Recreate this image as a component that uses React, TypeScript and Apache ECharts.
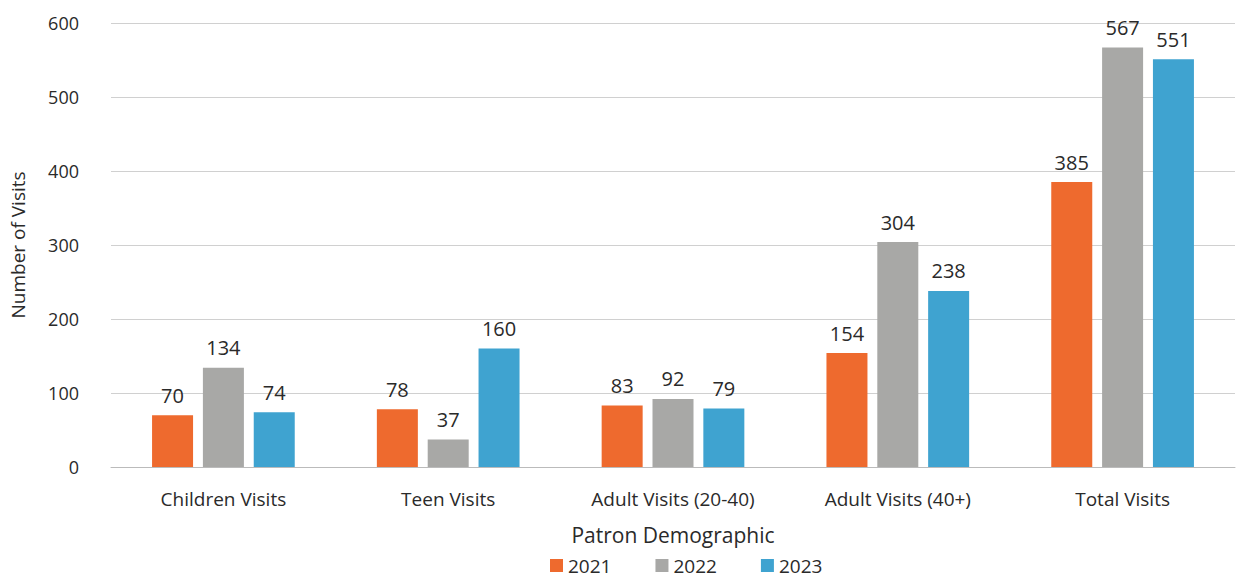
import React, { useEffect, useRef } from "react";
import * as echarts from "echarts";

const categories = ["Children Visits", "Teen Visits", "Adult Visits (20-40)", "Adult Visits (40+)", "Total Visits"];
const v2021 = [70, 78, 83, 154, 385];
const v2022 = [134, 37, 92, 304, 567];
const v2023 = [74, 160, 79, 238, 551];
const yTicks = [0, 100, 200, 300, 400, 500, 600];

const FONT = "'Open Sans', 'Noto Sans', sans-serif";
const colors = ["#EE6A2E", "#A8A8A6", "#3FA3D0"];

export default function App() {
  const ref = useRef<HTMLDivElement>(null);
  useEffect(() => {
    const chart = echarts.init(ref.current!, undefined, { renderer: "svg" });
    const mk = (name: string, data: number[], color: string) => ({
      name,
      type: "bar",
      data,
      barWidth: 41,
      barGap: "24%",
      itemStyle: { color },
      label: {
        show: true,
        position: "top",
        distance: 10,
        color: "#2a2a2a",
        fontSize: 20,
        fontFamily: FONT,
      },
    });
    chart.setOption({
      animation: false,
      backgroundColor: "#fff",
      color: colors,
      grid: { left: 107, right: 19, top: 23, bottom: 112 },
      legend: {
        bottom: -1,
        left: 545,
        itemWidth: 13,
        itemHeight: 13,
        itemGap: 44,
        icon: "rect",
        textStyle: { fontSize: 19, color: "#2a2a2a", fontFamily: FONT },
        data: ["2021", "2022", "2023"],
      },
      xAxis: {
        type: "category",
        data: categories,
        name: "Patron Demographic",
        nameLocation: "middle",
        nameGap: 57,
        nameTextStyle: { fontSize: 21, color: "#2a2a2a", fontFamily: FONT },
        axisLine: { lineStyle: { color: "#bbb" } },
        axisTick: { show: false },
        axisLabel: { fontSize: 19, color: "#2a2a2a", fontFamily: FONT, margin: 22 },
      },
      yAxis: {
        type: "value",
        min: 0,
        max: 600,
        interval: 100,
        name: "Number of Visits",
        nameLocation: "middle",
        nameGap: 84,
        nameTextStyle: { fontSize: 19, color: "#2a2a2a", fontFamily: FONT },
        axisLabel: {
          fontSize: 18,
          color: "#2a2a2a",
          fontFamily: FONT,
          margin: 32,
          formatter: (v: number) => (yTicks.includes(v) ? String(v) : ""),
        },
        splitLine: { lineStyle: { color: "#d0d0d0" } },
      },
      series: [mk("2021", v2021, colors[0]), mk("2022", v2022, colors[1]), mk("2023", v2023, colors[2])],
    });
    return () => chart.dispose();
  }, []);
  return <div ref={ref} style={{ position: "fixed", left: 0, top: 0, width: 1254, height: 579 }} />;
}
